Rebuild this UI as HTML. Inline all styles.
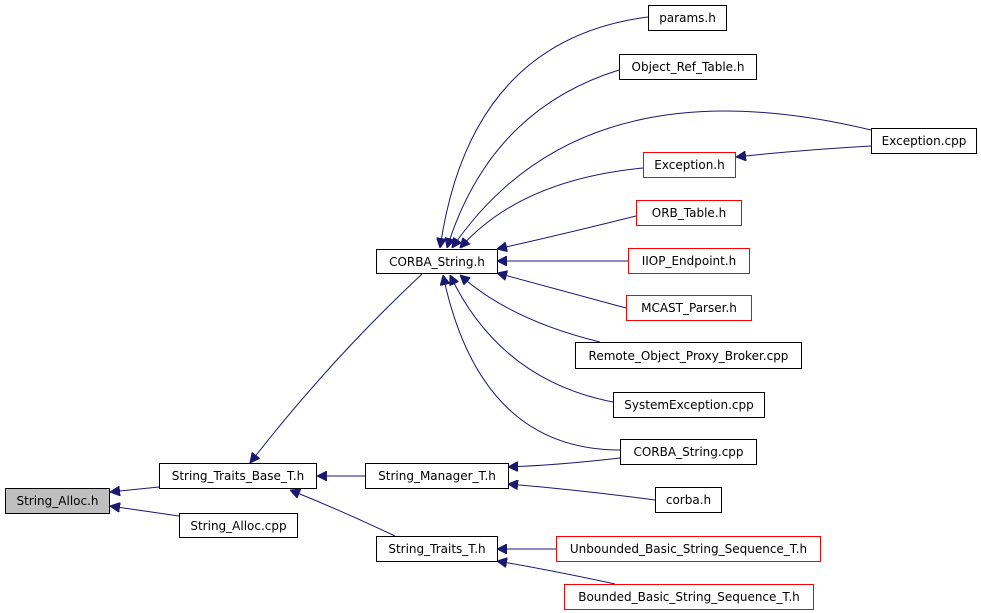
<!DOCTYPE html>
<html><head><meta charset="utf-8"><style>
html,body{margin:0;padding:0;background:#fff;}
svg{display:block;}
text{font-family:"DejaVu Sans","Liberation Sans",sans-serif;font-size:12px;fill:#000;}
</style></head><body>
<svg width="981" height="613" viewBox="0 0 981 613" xmlns="http://www.w3.org/2000/svg">
<defs>
<marker id="a" viewBox="0 0 10 10" refX="10" refY="5" markerWidth="10" markerHeight="10" markerUnits="userSpaceOnUse" orient="auto">
<path d="M0,0 L10,5 L0,10 z" fill="#191970" stroke="#191970"/>
</marker>
</defs>
<g fill="none" stroke="#191970" stroke-width="1" marker-end="url(#a)">
<path d="M159,487 L110,492"/>
<path d="M179,516 L110,506"/>
<path d="M422,274 Q330,360 250,463"/>
<path d="M365,476 L317,476"/>
<path d="M395,536 Q340,510 290,490"/>
<path d="M620,458 Q560,465 508,467"/>
<path d="M655,500 Q580,490 508,484"/>
<path d="M556,549 L497,549"/>
<path d="M615,584 Q550,570 497,561"/>
<path d="M871,146 Q800,150 736,157"/>
<path d="M648,17 Q470,40 440,248"/>
<path d="M619,70 Q490,110 447,248"/>
<path d="M871,130 Q580,60 452,248"/>
<path d="M643,168 Q520,180 460,248"/>
<path d="M636,216 Q560,235 497,249"/>
<path d="M628,261 L497,261"/>
<path d="M626,308 Q560,290 497,273"/>
<path d="M600,342 Q510,320 460,275"/>
<path d="M613,402 Q500,380 450,275"/>
<path d="M620,450 Q480,450 443,275"/>
</g>
<g stroke-width="1">
<rect x="5.5" y="488.5" width="104" height="25" fill="#bfbfbf" stroke="#000"/>
<rect x="159.5" y="463.5" width="157" height="25" fill="#fff" stroke="#000"/>
<rect x="179.5" y="513.5" width="118" height="24" fill="#fff" stroke="#000"/>
<rect x="376.5" y="249.5" width="121" height="24" fill="#fff" stroke="#000"/>
<rect x="365.5" y="463.5" width="143" height="25" fill="#fff" stroke="#000"/>
<rect x="376.5" y="536.5" width="121" height="25" fill="#fff" stroke="#000"/>
<rect x="648.5" y="5.5" width="78" height="25" fill="#fff" stroke="#000"/>
<rect x="619.5" y="54.5" width="137" height="25" fill="#fff" stroke="#000"/>
<rect x="871.5" y="128.5" width="105" height="25" fill="#fff" stroke="#000"/>
<rect x="643.5" y="152.5" width="92" height="25" fill="#fff" stroke="#f00"/>
<rect x="636.5" y="200.5" width="105" height="25" fill="#fff" stroke="#f00"/>
<rect x="628.5" y="248.5" width="121" height="25" fill="#fff" stroke="#f00"/>
<rect x="626.5" y="295.5" width="125" height="25" fill="#fff" stroke="#f00"/>
<rect x="575.5" y="342.5" width="226" height="26" fill="#fff" stroke="#000"/>
<rect x="613.5" y="392.5" width="151" height="25" fill="#fff" stroke="#000"/>
<rect x="620.5" y="439.5" width="136" height="25" fill="#fff" stroke="#000"/>
<rect x="655.5" y="487.5" width="66" height="25" fill="#fff" stroke="#000"/>
<rect x="556.5" y="536.5" width="264" height="25" fill="#fff" stroke="#f00"/>
<rect x="564.5" y="584.5" width="249" height="25" fill="#fff" stroke="#f00"/>
</g>
<g text-anchor="middle">
<text x="57.5" y="505">String_Alloc.h</text>
<text x="238" y="480">String_Traits_Base_T.h</text>
<text x="238.5" y="530">String_Alloc.cpp</text>
<text x="437" y="266">CORBA_String.h</text>
<text x="437" y="480">String_Manager_T.h</text>
<text x="437" y="553">String_Traits_T.h</text>
<text x="687.5" y="22">params.h</text>
<text x="688" y="71">Object_Ref_Table.h</text>
<text x="924" y="145">Exception.cpp</text>
<text x="689.5" y="169">Exception.h</text>
<text x="689" y="217">ORB_Table.h</text>
<text x="689" y="265">IIOP_Endpoint.h</text>
<text x="689" y="312">MCAST_Parser.h</text>
<text x="688.5" y="360">Remote_Object_Proxy_Broker.cpp</text>
<text x="689" y="409">SystemException.cpp</text>
<text x="688.5" y="456">CORBA_String.cpp</text>
<text x="688.5" y="504">corba.h</text>
<text x="688.5" y="553">Unbounded_Basic_String_Sequence_T.h</text>
<text x="689" y="601">Bounded_Basic_String_Sequence_T.h</text>
</g>
</svg>
</body></html>
